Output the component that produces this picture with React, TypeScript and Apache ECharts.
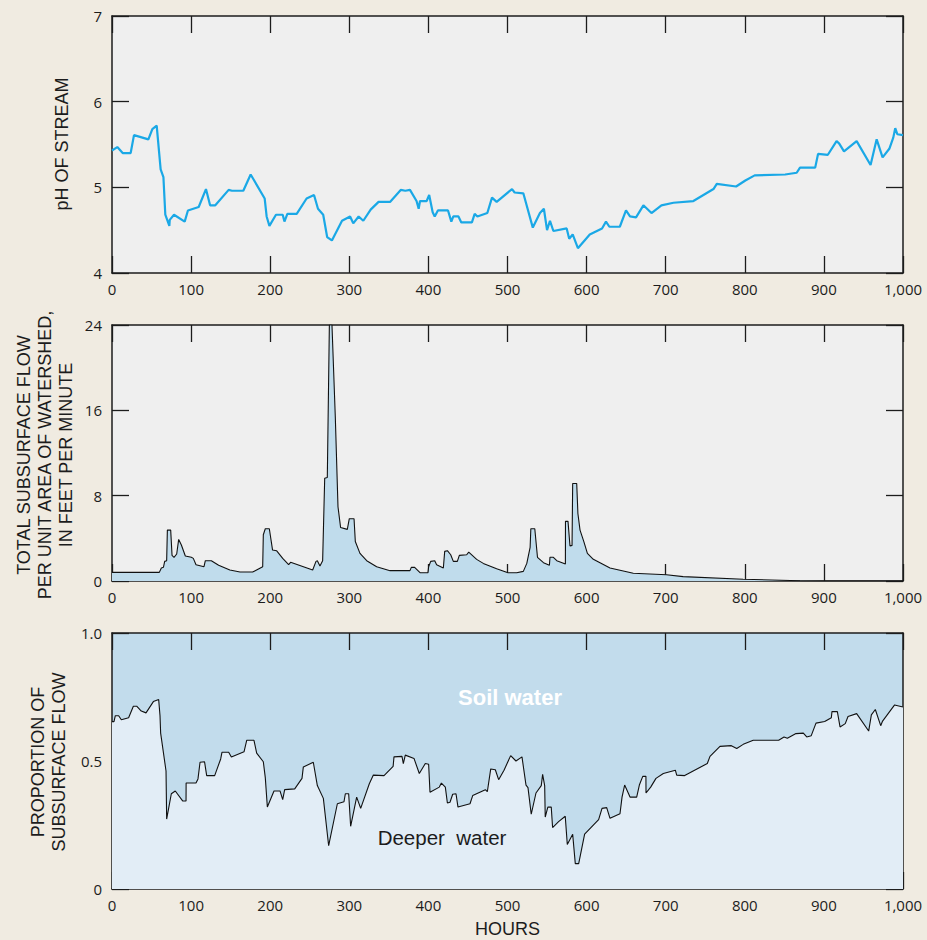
import React, { useEffect, useRef } from "react";
import * as echarts from "echarts";

// ---------- DATA ----------
const phHours = [0, 6.7, 13.5, 23.6, 27.8, 46, 51, 56.5, 61.5, 65, 67.4, 72.5, 73, 78.4, 91.9, 96, 109.6, 118.8, 124, 130.6, 147.5, 151.7, 166, 175.3, 193, 195.5, 199, 207.3, 215.8, 218, 221.7, 233.5, 246, 255.4, 260.4, 267, 272, 278, 290.8, 301, 305, 311.8, 317.7, 327, 337, 351.5, 365, 370.8, 376.7, 385, 387.7, 389.4, 397.8, 401, 405.4, 408, 412, 424.8, 429, 431.5, 438, 441.6, 455, 458.5, 461.9, 474.5, 480.4, 486.3, 505.7, 509, 520, 532, 541, 546, 550, 553.7, 558, 574.8, 578, 582.4, 589, 604, 619.5, 624.5, 628.8, 642, 649.8, 654.9, 662.5, 671.8, 682, 694.6, 709.8, 735, 760.4, 764.6, 789, 800.7, 812.5, 851, 865.6, 869.8, 889, 892.6, 905, 916, 919.4, 925.4, 941.4, 959, 966.7, 974.2, 982.7, 987.7, 990.2, 992.8, 1000];
const phValues = [5.43, 5.47, 5.40, 5.40, 5.61, 5.56, 5.68, 5.72, 5.21, 5.12, 4.68, 4.55, 4.62, 4.68, 4.60, 4.73, 4.77, 4.98, 4.79, 4.79, 4.97, 4.96, 4.96, 5.15, 4.87, 4.66, 4.55, 4.68, 4.68, 4.60, 4.69, 4.69, 4.87, 4.91, 4.75, 4.68, 4.42, 4.38, 4.61, 4.66, 4.58, 4.66, 4.61, 4.74, 4.83, 4.83, 4.97, 4.96, 4.97, 4.84, 4.75, 4.84, 4.84, 4.91, 4.71, 4.66, 4.73, 4.73, 4.60, 4.66, 4.66, 4.59, 4.59, 4.69, 4.66, 4.70, 4.88, 4.83, 4.98, 4.94, 4.93, 4.53, 4.70, 4.75, 4.50, 4.61, 4.49, 4.52, 4.40, 4.45, 4.29, 4.45, 4.52, 4.60, 4.54, 4.54, 4.73, 4.66, 4.65, 4.79, 4.70, 4.79, 4.82, 4.84, 4.98, 5.04, 5.01, 5.08, 5.14, 5.15, 5.17, 5.23, 5.23, 5.39, 5.38, 5.54, 5.51, 5.42, 5.54, 5.26, 5.56, 5.35, 5.45, 5.58, 5.69, 5.62, 5.61];

const flowHours = [0, 59.8, 62.4, 65, 66.6, 69.1, 70, 74.2, 75.9, 78.4, 81.8, 84.3, 87.7, 92.7, 100.3, 102.8, 106.2, 116.3, 118, 125.6, 134.8, 149, 161.8, 177.8, 190.5, 191.3, 193.8, 198.9, 203, 208, 215.8, 223.3, 225.8, 253.7, 257.9, 259.6, 262.9, 266.3, 268.9, 272.2, 274.8, 278.1, 282.3, 285.7, 289, 297.5, 300, 306, 307.6, 313.5, 322, 334.6, 351.5, 376.7, 378.4, 382.6, 389.4, 399.5, 400.3, 402.9, 408, 410.4, 418.9, 420.6, 424, 428.2, 431.5, 436.6, 439.1, 448.4, 451, 461, 469.4, 486.3, 500.6, 511.6, 520, 524.4, 528.6, 529.5, 534.5, 537.9, 545.5, 553, 553.7, 558, 562.3, 573.2, 573.3, 576.5, 579, 581.6, 582.4, 587.5, 589, 591.7, 596.7, 601, 608.5, 629.6, 659, 701, 722, 798, 869.8, 900, 1000];
const flowValues = [0.81, 0.81, 1.22, 1.28, 1.84, 1.90, 4.77, 4.77, 2.40, 2.22, 2.53, 3.90, 3.37, 2.34, 2.22, 2.12, 1.53, 1.34, 1.90, 1.90, 1.47, 1.03, 0.84, 0.84, 1.34, 4.34, 4.90, 4.90, 2.90, 2.84, 2.12, 1.53, 1.75, 1.03, 1.84, 1.90, 1.40, 1.90, 9.64, 9.70, 24, 24, 15.4, 6.96, 5.02, 4.84, 5.84, 5.84, 3.71, 2.59, 1.90, 1.34, 0.97, 0.97, 1.28, 1.28, 0.78, 0.78, 1.34, 1.84, 1.90, 1.53, 1.22, 2.78, 2.84, 2.46, 1.84, 1.84, 2.40, 2.46, 2.71, 2.03, 1.65, 1.15, 0.78, 0.78, 0.90, 1.65, 3.15, 4.90, 4.90, 2.22, 1.72, 1.47, 2.22, 2.22, 1.90, 1.59, 5.59, 5.59, 3.28, 3.34, 9.14, 9.14, 6.33, 4.77, 3.65, 2.59, 2.03, 1.22, 0.72, 0.59, 0.41, 0.16, 0.03, 0, 0];

const propHours = [0, 2.5, 4.2, 8.4, 11.8, 21, 27, 31.2, 37, 43, 52.3, 59, 60.7, 61.5, 68.3, 69.1, 75, 80, 89.3, 93.6, 93.7, 106.2, 108.7, 111.3, 117, 119.7, 129.8, 137.4, 139, 147.5, 150.9, 166.9, 170.3, 179.5, 182.9, 191.3, 193.8, 196.4, 204.8, 212.4, 215.8, 218.3, 231, 240.2, 241.9, 254.5, 259.6, 267.2, 273.9, 284.9, 293.3, 295, 299.2, 301.7, 309.3, 314.4, 325.3, 330.4, 343.9, 355.4, 356.5, 366.6, 368.3, 370.8, 381.8, 388.5, 396.1, 400.3, 402, 413.8, 416.4, 421.4, 424, 427.3, 430.7, 434.9, 437.4, 452.6, 456, 472, 474.5, 478.8, 484.6, 488.8, 495.6, 504, 510.7, 518.3, 523.4, 525.9, 530, 536, 542.7, 544.4, 547, 547.7, 551, 555.3, 557, 564.6, 573, 575.6, 582.4, 585.7, 590, 597.5, 615.2, 619.5, 625.4, 629.6, 642.2, 644.8, 648.1, 654.9, 663.3, 666.7, 671, 675, 675.1, 681, 687.7, 697, 712.2, 713.9, 724, 752.6, 756, 768.6, 783, 789.8, 798, 810.7, 842.8, 849.6, 853.8, 864.7, 874, 878.3, 884, 890, 901, 909.4, 910.2, 917, 920.4, 927, 930.5, 941.4, 956.6, 960, 965, 971.8, 974.2, 989.4, 1000];
const deeperValues = [0.654, 0.654, 0.677, 0.677, 0.661, 0.669, 0.714, 0.714, 0.695, 0.688, 0.732, 0.740, 0.677, 0.609, 0.461, 0.273, 0.372, 0.383, 0.344, 0.344, 0.414, 0.414, 0.430, 0.495, 0.497, 0.443, 0.443, 0.508, 0.534, 0.534, 0.516, 0.536, 0.581, 0.581, 0.531, 0.497, 0.435, 0.320, 0.383, 0.383, 0.349, 0.388, 0.391, 0.432, 0.477, 0.495, 0.404, 0.354, 0.169, 0.333, 0.341, 0.372, 0.372, 0.245, 0.359, 0.315, 0.411, 0.445, 0.443, 0.479, 0.516, 0.518, 0.490, 0.523, 0.510, 0.451, 0.490, 0.487, 0.378, 0.398, 0.414, 0.398, 0.336, 0.339, 0.370, 0.372, 0.320, 0.333, 0.365, 0.388, 0.380, 0.469, 0.466, 0.427, 0.464, 0.521, 0.500, 0.516, 0.406, 0.396, 0.292, 0.375, 0.404, 0.448, 0.404, 0.281, 0.320, 0.320, 0.240, 0.263, 0.284, 0.174, 0.214, 0.099, 0.099, 0.214, 0.271, 0.315, 0.318, 0.276, 0.294, 0.359, 0.406, 0.359, 0.359, 0.406, 0.440, 0.440, 0.375, 0.398, 0.432, 0.451, 0.464, 0.445, 0.443, 0.490, 0.518, 0.557, 0.560, 0.549, 0.565, 0.581, 0.581, 0.594, 0.589, 0.607, 0.609, 0.594, 0.599, 0.648, 0.654, 0.669, 0.693, 0.693, 0.633, 0.646, 0.674, 0.685, 0.617, 0.680, 0.701, 0.638, 0.656, 0.719, 0.711];

const phTicks = { min: 4, max: 7, interval: 1 };
const flowTicks = { min: 0, max: 24, interval: 8 };
const propTicks = { min: 0, max: 1, interval: 0.5 };
const propTickLabels: Record<string, string> = { "0": "0", "0.5": "0.5", "1": "1.0" };
const xTicks = { min: 0, max: 1000, interval: 100 };

const phTitle = "pH OF STREAM";
const flowTitle = "TOTAL SUBSURFACE FLOW\nPER UNIT AREA OF WATERSHED,\nIN FEET PER MINUTE";
const propTitle = "PROPORTION OF\nSUBSURFACE FLOW";
const xTitle = "HOURS";
const soilLabel = "Soil water";
const deeperLabel = "Deeper  water";

const zip = (xs: number[], ys: number[]) => xs.map((x, i) => [x, ys[i]]);

// ---------- STYLE ----------
const PAGE_BG = "#F0EBE1";
const PLOT_BG = "#EFEFEF";
const INK = "#1c1c1c";
const LABEL_FONT = "'Open Sans', 'Liberation Sans', sans-serif";
const TITLE_FONT = "'Liberation Sans', Arial, sans-serif";

const grids = [
  { left: 112, width: 791, top: 16, height: 257 },
  { left: 112, width: 791, top: 325, height: 256 },
  { left: 112, width: 791, top: 633, height: 256 },
];

export default function App() {
  const ref = useRef<HTMLDivElement>(null);

  useEffect(() => {
    if (!ref.current) return;
    const chart = echarts.init(ref.current, null, { renderer: "svg" });

    const lineStyle = { color: INK, width: 1.5 };
    const axisLine = { show: true, onZero: false, lineStyle };
    const tickStyle = { show: true, inside: true, length: 17, lineStyle: { color: INK, width: 1.3 } };
    const labelStyle = { color: INK, fontSize: 15, fontFamily: LABEL_FONT };

    const xAxes: any[] = [];
    const yAxes: any[] = [];
    const yTicks = [phTicks, flowTicks, propTicks];
    grids.forEach((_, i) => {
      xAxes.push({
        type: "value", gridIndex: i, position: "bottom", ...xTicks,
        axisLine, axisTick: tickStyle, splitLine: { show: false },
        axisLabel: { ...labelStyle, margin: 8, formatter: (v: number) => (v === 1000 ? "1,000" : String(v)) },
        ...(i === 2
          ? { name: xTitle, nameLocation: "middle", nameGap: 31, nameTextStyle: { color: INK, fontSize: 18, fontFamily: TITLE_FONT } }
          : {}),
      });
      xAxes.push({
        type: "value", gridIndex: i, position: "top", ...xTicks,
        axisLine, axisTick: tickStyle, splitLine: { show: false },
        axisLabel: { show: false },
      });
      yAxes.push({
        type: "value", gridIndex: i, position: "left", ...yTicks[i],
        axisLine, axisTick: tickStyle, splitLine: { show: false },
        axisLabel: {
          ...labelStyle, margin: 10,
          formatter: i === 2 ? (v: number) => propTickLabels[String(v)] ?? String(v) : (v: number) => String(v),
        },
      });
      yAxes.push({
        type: "value", gridIndex: i, position: "right", ...yTicks[i],
        axisLine, axisTick: tickStyle, splitLine: { show: false },
        axisLabel: { show: false },
      });
    });

    const titleText = (text: string, x: number, y: number) => ({
      type: "text", x, y, rotation: Math.PI / 2, z: 100,
      style: {
        text, fill: INK, fontSize: 18, fontFamily: TITLE_FONT, lineHeight: 21,
        align: "center", verticalAlign: "middle",
      },
    });

    chart.setOption({
      animation: false,
      backgroundColor: PAGE_BG,
      grid: grids.map((g, i) => ({ ...g, show: true, borderWidth: 0, backgroundColor: i === 2 ? "#C2DCEC" : PLOT_BG })),
      xAxis: xAxes,
      yAxis: yAxes,
      series: [
        {
          type: "line", xAxisIndex: 0, yAxisIndex: 0, data: zip(phHours, phValues),
          symbol: "none", lineStyle: { color: "#1AA8E6", width: 2.2 }, z: 3,
        },
        {
          type: "line", xAxisIndex: 2, yAxisIndex: 2, data: zip(flowHours, flowValues),
          symbol: "none", lineStyle: { color: "#111", width: 1.1 },
          areaStyle: { color: "#C0DCEC", opacity: 1 }, z: 1,
        },
        {
          type: "line", xAxisIndex: 4, yAxisIndex: 4, data: zip(propHours, deeperValues),
          symbol: "none", lineStyle: { color: "#111", width: 1.1 },
          areaStyle: { color: "#E2EDF6", opacity: 1 }, z: 1,
        },
      ],
      graphic: [
        titleText(phTitle, 62, 144),
        titleText(flowTitle, 45, 455),
        titleText(propTitle, 48, 762),
        {
          type: "text", x: 510, y: 697, z: 100,
          style: { text: soilLabel, fill: "#ffffff", fontSize: 22, fontWeight: "bold", fontFamily: TITLE_FONT, align: "center", verticalAlign: "middle" },
        },
        {
          type: "text", x: 442, y: 837, z: 100,
          style: { text: deeperLabel, fill: INK, fontSize: 20.5, fontFamily: TITLE_FONT, align: "center", verticalAlign: "middle" },
        },
      ],
    });

    return () => chart.dispose();
  }, []);

  return <div ref={ref} style={{ position: "fixed", left: 0, top: 0, width: 927, height: 940 }} />;
}
